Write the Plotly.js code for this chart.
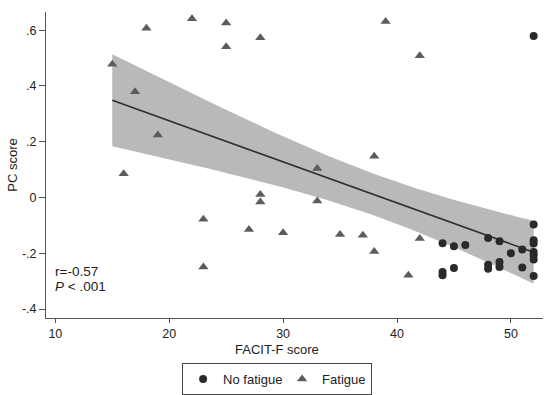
<!DOCTYPE html>
<html>
<head>
<meta charset="utf-8">
<script src="https://cdn.plot.ly/plotly-3.0.1.min.js"></script>
<style>html,body{margin:0;padding:0;background:#fff;}#chart{width:554px;height:395px;}</style>
</head>
<body>
<div id="chart"></div>
<script>
// Fatigue group (triangles)
var fatigueX = [15, 16, 17, 18, 19, 22, 23, 23, 25, 25, 27, 28, 28, 28, 30, 33, 33, 35, 37, 38, 38, 39, 41, 42, 42];
var fatigueY = [0.478, 0.085, 0.379, 0.607, 0.224, 0.641, -0.078, -0.249, 0.626, 0.540, -0.115, 0.573, 0.011, -0.016, -0.126, 0.104, -0.013, -0.133, -0.135, 0.148, -0.194, 0.631, -0.279, 0.508, -0.147];
// No fatigue group (circles)
var noFatigueX = [44, 44, 44, 45, 45, 46, 48, 48, 48, 49, 49, 49, 50, 51, 51, 52, 52, 52, 52, 52, 52, 52, 52];
var noFatigueY = [-0.164, -0.267, -0.279, -0.175, -0.253, -0.170, -0.145, -0.241, -0.255, -0.157, -0.231, -0.249, -0.200, -0.186, -0.251, 0.579, -0.097, -0.153, -0.165, -0.195, -0.207, -0.222, -0.281];

var xTickVals = [10, 20, 30, 40, 50];
var yTickVals = [0.6, 0.4, 0.2, 0, -0.2, -0.4];
var yTickText = ['.6', '.4', '.2', '0', '-.2', '-.4'];
var legendNames = ['No fatigue', 'Fatigue'];
var statText = ['r=-0.57', '<i>P</i> < .001'];

// Linear fit with 95% CI of the mean prediction, computed from all points
var allX = fatigueX.concat(noFatigueX);
var allY = fatigueY.concat(noFatigueY);
var n = allX.length;
var mx = allX.reduce(function(a,b){return a+b;},0)/n;
var my = allY.reduce(function(a,b){return a+b;},0)/n;
var sxx = 0, sxy = 0;
for (var i = 0; i < n; i++) { sxx += (allX[i]-mx)*(allX[i]-mx); sxy += (allX[i]-mx)*(allY[i]-my); }
var b1 = sxy/sxx, b0 = my - b1*mx;
var sse = 0;
for (var i = 0; i < n; i++) { var r = allY[i] - (b0 + b1*allX[i]); sse += r*r; }
var s = Math.sqrt(sse/(n-2));
var tcrit = 2.013;
var xmin = Math.min.apply(null, allX), xmax = Math.max.apply(null, allX);
var gx = [], gy = [], glo = [], ghi = [];
for (var k = 0; k <= 100; k++) {
  var xv = xmin + (xmax - xmin)*k/100;
  var yv = b0 + b1*xv;
  var se = s*Math.sqrt(1/n + (xv-mx)*(xv-mx)/sxx);
  gx.push(xv); gy.push(yv); glo.push(yv - tcrit*se); ghi.push(yv + tcrit*se);
}

var traces = [
  {x: gx, y: glo, mode: 'lines', line: {width: 0, color: '#b9b9b9'}, showlegend: false, hoverinfo: 'skip'},
  {x: gx, y: ghi, mode: 'lines', line: {width: 0, color: '#b9b9b9'}, fill: 'tonexty', fillcolor: '#b9b9b9', showlegend: false, hoverinfo: 'skip'},
  {x: gx, y: gy, mode: 'lines', line: {width: 1.6, color: '#2e2e2e'}, showlegend: false, hoverinfo: 'skip'},
  {x: noFatigueX, y: noFatigueY, mode: 'markers', name: legendNames[0], legendwidth: 54,
   marker: {symbol: 'circle', size: 8, color: '#2a2a2a'}},
  {x: fatigueX, y: fatigueY, mode: 'markers', name: legendNames[1],
   marker: {symbol: 'triangle-up', size: 9, color: '#5c5c5c'}}
];

var axisFont = {family: 'Liberation Sans, Arial, sans-serif', size: 12.5, color: '#222'};
var layout = {
  width: 554, height: 395,
  margin: {l: 46, r: 11, t: 12, b: 77, pad: 0, autoexpand: false},
  paper_bgcolor: '#ffffff', plot_bgcolor: '#ffffff',
  font: {family: 'Liberation Sans, Arial, sans-serif', size: 13, color: '#222'},
  showlegend: true,
  xaxis: {range: [9.18, 52.82], tickvals: xTickVals, showgrid: false, zeroline: false, automargin: false,
          showline: true, linecolor: '#555', linewidth: 1, ticks: 'outside', ticklen: 4,
          tickcolor: '#555', tickfont: axisFont, title: {text: ''}},
  yaxis: {range: [-0.432, 0.665], tickvals: yTickVals, ticktext: yTickText, showgrid: false, zeroline: false, automargin: false,
          showline: true, linecolor: '#555', linewidth: 1, ticks: 'outside', ticklen: 6,
          tickcolor: '#555', tickfont: axisFont,
          title: {text: 'PC score', font: {size: 13, color: '#222'}, standoff: 1}},
  legend: {orientation: 'h', traceorder: 'normal', x: 0.465, xanchor: 'center', y: -0.147, yanchor: 'top',
           bordercolor: '#444', borderwidth: 1, bgcolor: '#fff', font: {size: 13, color: '#222'}},
  annotations: [
    {text: 'FACIT-F score', xref: 'paper', yref: 'paper', x: 0.465, y: -0.102, xanchor: 'center', yanchor: 'middle',
     showarrow: false, font: {size: 13, color: '#222'}},
    {text: statText[0], xref: 'paper', yref: 'paper', x: 0.014, y: 0.153, xanchor: 'left', yanchor: 'middle',
     showarrow: false, font: {size: 13.5, color: '#222'}},
    {text: statText[1], xref: 'paper', yref: 'paper', x: 0.014, y: 0.104, xanchor: 'left', yanchor: 'middle',
     showarrow: false, font: {size: 13.5, color: '#222'}}
  ]
};

Plotly.newPlot('chart', traces, layout, {displayModeBar: false, staticPlot: true});
</script>
</body>
</html>
